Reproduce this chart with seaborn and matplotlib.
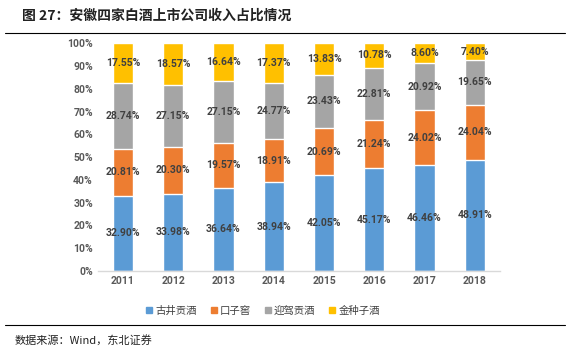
import numpy as np
import pandas as pd
import matplotlib.pyplot as plt
import seaborn as sns

years = ['2011', '2012', '2013', '2014', '2015', '2016', '2017', '2018']
gujing = [32.90, 33.98, 36.64, 38.94, 42.05, 45.17, 46.46, 48.91]
kouzi = [20.81, 20.30, 19.57, 18.91, 20.69, 21.24, 24.02, 24.04]
yingjia = [28.74, 27.15, 27.15, 24.77, 23.43, 22.81, 20.92, 19.65]
jinzhongzi = [17.55, 18.57, 16.64, 17.37, 13.83, 10.78, 8.60, 7.40]

names = ['古井贡酒', '口子窖', '迎驾贡酒', '金种子酒']
colors = ['#5B9BD5', '#ED7D31', '#A5A5A5', '#FFC000']

sns.set_style("white")
plt.rcParams['font.family'] = ['Roboto', 'Noto Sans CJK SC', 'DejaVu Sans']

series = [gujing, kouzi, yingjia, jinzhongzi]
cum = np.cumsum(np.array(series), axis=0)

fig = plt.figure(figsize=(5.72, 3.51), dpi=100)
ax = fig.add_axes([0.171, 0.228, 0.703, 0.649])

# stacked: draw cumulative totals from the top layer down
for i in range(3, -1, -1):
    df = pd.DataFrame({'year': years, 'val': cum[i]})
    sns.barplot(data=df, x='year', y='val', color=colors[i], width=0.4,
                saturation=1, ax=ax, label=None)

for i in range(4):
    for j in range(len(years)):
        base = cum[i][j] - series[i][j]
        ax.text(j, base + series[i][j] / 2, f'{series[i][j]:.2f}%', ha='center', va='center',
                fontsize=7.5, color='#404040', fontweight='bold')

ax.set_ylim(0, 100)
ax.set_xlim(-0.5, 7.5)
ax.set_yticks(range(0, 101, 10))
ax.set_yticklabels([f'{v}%' for v in range(0, 101, 10)])
ax.set_xlabel('')
ax.set_ylabel('')
ax.tick_params(axis='both', labelsize=7.5, colors='#595959', length=0)
for t in ax.get_xticklabels() + ax.get_yticklabels():
    t.set_fontweight('bold')
for s in ['top', 'right', 'left']:
    ax.spines[s].set_visible(False)
ax.spines['bottom'].set_color('#D9D9D9')
ax.spines['bottom'].set_linewidth(1)

handles = [plt.Line2D([], [], marker='s', linestyle='', color=c, markersize=4) for c in colors]
fig.legend(handles, names, loc='center', bbox_to_anchor=(0.458, 1 - 311 / 351), ncol=4,
           frameon=False, fontsize=7.5, handletextpad=0.1, columnspacing=1.1,
           handlelength=1.0, labelcolor='#404040')

fig.text(22 / 572, 1 - 16 / 351, '图 27：安徽四家白酒上市公司收入占比情况', fontsize=10,
         fontweight='bold', va='center', ha='left', color='#222222',
         family=['Noto Sans CJK SC', 'DejaVu Sans'])
fig.add_artist(plt.Line2D([5 / 572, 565 / 572], [1 - 33 / 351] * 2, color='black', lw=0.8))
fig.add_artist(plt.Line2D([5 / 572, 565 / 572], [1 - 325 / 351] * 2, color='black', lw=0.8))
fig.text(15 / 572, 1 - 340 / 351, '数据来源：Wind，东北证券', fontsize=8, va='center', ha='left',
         color='#222222', family=['Noto Sans CJK SC', 'DejaVu Sans'])

fig.savefig('out.png', dpi=100)
